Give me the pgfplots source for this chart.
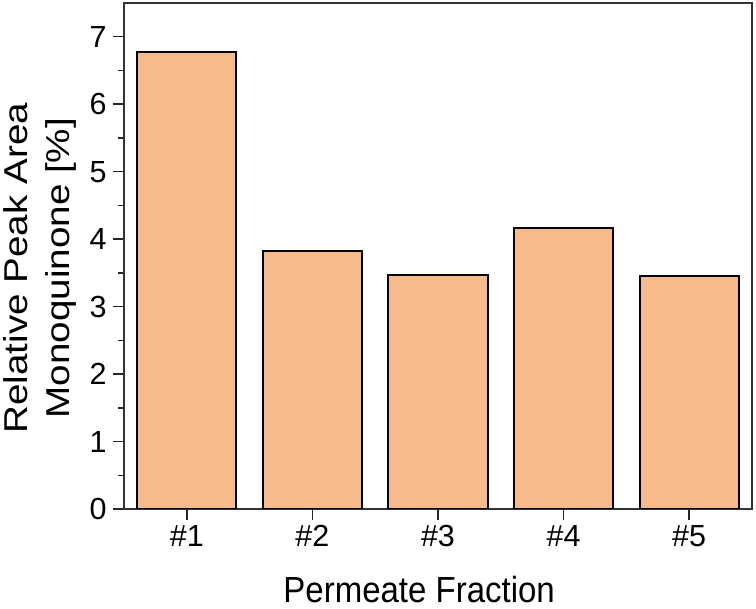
\documentclass[border=0pt]{standalone}
\usepackage{pgfplots}
\pgfplotsset{compat=1.18}
\usepackage{fontspec}
\setmainfont{Liberation Sans}
\usepackage{graphicx}
\definecolor{barfill}{HTML}{F7BA8A}
\begin{document}
\begin{tikzpicture}
\useasboundingbox (0,0) rectangle (756pt,609pt);
\begin{axis}[
  at={(124pt,100pt)}, anchor=south west,
  scale only axis, width=628pt, height=506pt,
  xmin=0.5, xmax=5.5, ymin=0, ymax=7.5,
  xtick={1,2,3,4,5},
  xticklabels={\#1,\#2,\#3,\#4,\#5},
  ytick={0,1,2,3,4,5,6,7},
  minor y tick num=1,
  tick align=outside,
  xtick pos=bottom, ytick pos=left,
  major tick length=11pt, minor tick length=6pt,
  axis line style={line width=1.8pt, black!80},
  every tick/.style={line width=1.5pt, black!85},
  tick label style={font=\fontsize{30.5}{34}\selectfont},
  /pgf/number format/assume math mode=true,
  xticklabel style={yshift=-2pt},
  yticklabel style={xshift=-3pt},
  xlabel={\scalebox{1}[1.1]{Permeate Fraction}},
  ylabel={\scalebox{1.17}[1]{\begin{tabular}{@{}c@{}}Relative Peak Area\\[2pt]Monoquinone [\%]\end{tabular}}},
  ylabel style={font=\fontsize{33}{40}\selectfont, at={(axis description cs:-0.133,0.476)}, anchor=center, rotate=0},
  xlabel style={font=\fontsize{33}{40}\selectfont, at={(axis description cs:0.47,-0.184)}, anchor=base},
]
\addplot[ybar, bar width=99pt, fill=barfill, draw=black, line width=2pt]
  coordinates {(1,6.78) (2,3.82) (3,3.47) (4,4.17) (5,3.45)};
\end{axis}
\end{tikzpicture}
\end{document}
